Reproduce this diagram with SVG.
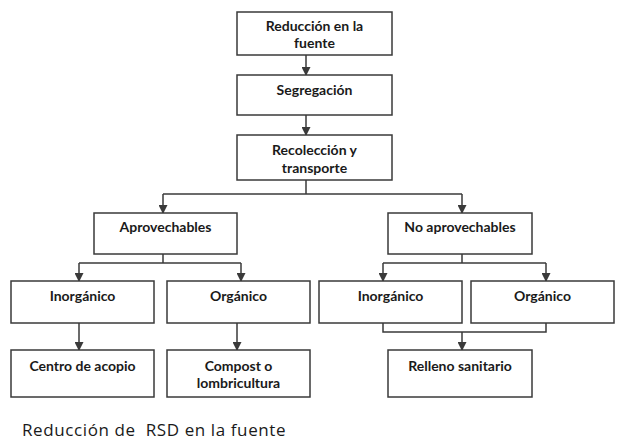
<svg xmlns="http://www.w3.org/2000/svg" width="619" height="442" viewBox="0 0 619 442">
<style>
.box{fill:#fff;stroke:#3a3a3a;stroke-width:1.5}
.lbl{font-family:Lato,"Open Sans","Liberation Sans",sans-serif;font-weight:bold;font-size:14px;fill:#1a1a1a;text-anchor:middle}
.ln{fill:none;stroke:#3a3a3a;stroke-width:1.5}
.cap{font-family:"Open Sans",Lato,"Liberation Sans",sans-serif;font-size:17px;letter-spacing:0.6px;fill:#1a1a1a}
</style>
<defs>
<marker id="ah" markerWidth="9" markerHeight="9" refX="8" refY="4.5" orient="auto" markerUnits="userSpaceOnUse">
<path d="M0,0 L9,4.5 L0,9 Z" fill="#3a3a3a"/>
</marker>
</defs>
<rect width="619" height="442" fill="#fff"/>
<g id="connectors">
<line class="ln" x1="306" y1="55" x2="306" y2="75" marker-end="url(#ah)"/>
<line class="ln" x1="306" y1="115" x2="306" y2="135" marker-end="url(#ah)"/>
<polyline class="ln" points="306,180 306,194"/>
<line class="ln" x1="163" y1="194" x2="462" y2="194"/>
<line class="ln" x1="163" y1="194" x2="163" y2="213" marker-end="url(#ah)"/>
<line class="ln" x1="462" y1="194" x2="462" y2="213" marker-end="url(#ah)"/>
<line class="ln" x1="163" y1="254" x2="163" y2="263"/>
<line class="ln" x1="79" y1="263" x2="241" y2="263"/>
<line class="ln" x1="79" y1="263" x2="79" y2="281" marker-end="url(#ah)"/>
<line class="ln" x1="241" y1="263" x2="241" y2="281" marker-end="url(#ah)"/>
<line class="ln" x1="462" y1="254" x2="462" y2="263"/>
<line class="ln" x1="383" y1="263" x2="546" y2="263"/>
<line class="ln" x1="383" y1="263" x2="383" y2="281" marker-end="url(#ah)"/>
<line class="ln" x1="546" y1="263" x2="546" y2="281" marker-end="url(#ah)"/>
<line class="ln" x1="79" y1="323" x2="79" y2="350" marker-end="url(#ah)"/>
<line class="ln" x1="237" y1="323" x2="237" y2="350" marker-end="url(#ah)"/>
<polyline class="ln" points="383,323 383,332 546,332 546,323"/>
<line class="ln" x1="462" y1="332" x2="462" y2="350" marker-end="url(#ah)"/>
</g>
<g id="n1"><rect class="box" x="237" y="12" width="155" height="43"/><text class="lbl" x="314.5" y="31">Reducción en la</text><text class="lbl" x="314.5" y="48">fuente</text></g>
<g id="n2"><rect class="box" x="237" y="75" width="155" height="40"/><text class="lbl" x="314.5" y="95">Segregación</text></g>
<g id="n3"><rect class="box" x="237" y="135" width="155" height="45"/><text class="lbl" x="314.5" y="155">Recolección y</text><text class="lbl" x="314.5" y="173">transporte</text></g>
<g id="n4"><rect class="box" x="94" y="213" width="143" height="41"/><text class="lbl" x="165.5" y="232">Aprovechables</text></g>
<g id="n5"><rect class="box" x="388" y="213" width="144" height="41"/><text class="lbl" x="460" y="232">No aprovechables</text></g>
<g id="n6"><rect class="box" x="11" y="281" width="143" height="42"/><text class="lbl" x="82.5" y="301">Inorgánico</text></g>
<g id="n7"><rect class="box" x="167" y="281" width="143" height="42"/><text class="lbl" x="238.5" y="301">Orgánico</text></g>
<g id="n8"><rect class="box" x="319" y="281" width="143" height="42"/><text class="lbl" x="390.5" y="301">Inorgánico</text></g>
<g id="n9"><rect class="box" x="471" y="281" width="143" height="42"/><text class="lbl" x="542.5" y="301">Orgánico</text></g>
<g id="n10"><rect class="box" x="11" y="350" width="143" height="47"/><text class="lbl" x="82.5" y="371">Centro de acopio</text></g>
<g id="n11"><rect class="box" x="167" y="350" width="143" height="47"/><text class="lbl" x="238.5" y="371">Compost o</text><text class="lbl" x="238.5" y="388">lombricultura</text></g>
<g id="n12"><rect class="box" x="388" y="350" width="144" height="47"/><text class="lbl" x="460" y="371">Relleno sanitario</text></g>
<text class="cap" x="22" y="436" xml:space="preserve">Reducción de  RSD en la fuente</text>
</svg>
